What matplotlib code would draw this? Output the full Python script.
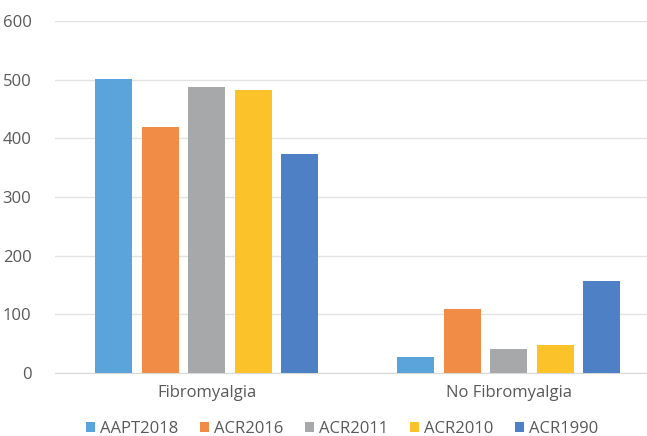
import matplotlib.pyplot as plt
import numpy as np

# data
groups = ["Fibromyalgia", "No Fibromyalgia"]
series = ["AAPT2018", "ACR2016", "ACR2011", "ACR2010", "ACR1990"]
aapt2018 = [502, 27]
acr2016 = [419, 109]
acr2011 = [487, 41]
acr2010 = [482, 47]
acr1990 = [373, 156]
colors = ["#5BA3DB", "#F08C45", "#A7A8AA", "#FCC22A", "#4E80C6"]

plt.rcParams['font.family'] = ['Open Sans', 'DejaVu Sans']

fig = plt.figure(figsize=(6.47, 4.36), dpi=100)
ax = fig.add_axes([0.085, 0.1445, 0.915, 0.8073])

x = np.arange(len(groups))
width = 0.1225
step = 0.154
values = [aapt2018, acr2016, acr2011, acr2010, acr1990]
for i, (name, vals) in enumerate(zip(series, values)):
    ax.bar(x + (i - 2) * step, vals, width, color=colors[i], label=name, zorder=3)

ax.set_ylim(0, 600)
ax.set_xlim(-0.503, 1.457)
ax.set_yticks(range(0, 601, 100))
ax.set_xticks(x)
ax.set_xticklabels(groups)
ax.grid(axis='y', color='#E3E3E3', linewidth=1, zorder=0)
for s in ['top', 'right', 'left']:
    ax.spines[s].set_visible(False)
ax.spines['bottom'].set_color('#D9D9D9')
ax.tick_params(axis='both', length=0, labelsize=12, colors='#595959')
ax.tick_params(axis='y', pad=17)
ax.tick_params(axis='x', pad=9)

fig.legend(loc='center', bbox_to_anchor=(0.529, 0.016), ncol=5, frameon=False,
           handlelength=0.55, handleheight=0.55, handletextpad=0.3,
           columnspacing=1.3, fontsize=12, labelcolor='#595959')

plt.savefig('out.png', dpi=100)
